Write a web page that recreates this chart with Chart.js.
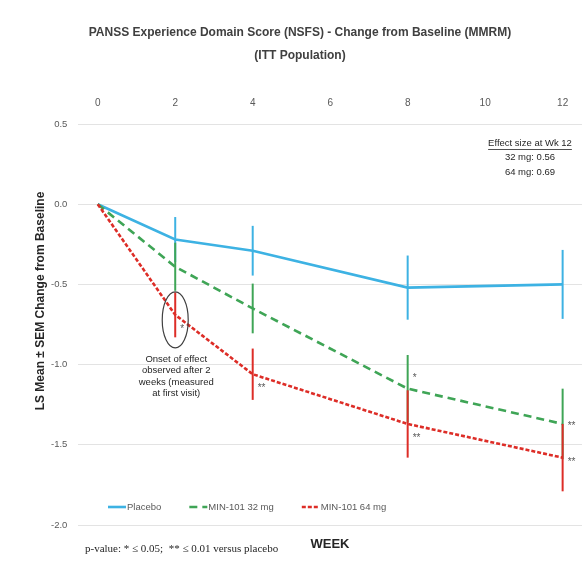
<!DOCTYPE html>
<html>
<head>
<meta charset="utf-8">
<script src="https://cdn.jsdelivr.net/npm/chart.js@4"></script>
<style>
  html, body { margin: 0; padding: 0; background: #fff; }
  #wrap { width: 588px; height: 577px; }
</style>
</head>
<body>
<div id="wrap"><canvas id="panssChart"></canvas></div>
<script>
// Data
const weeks = [0, 2, 4, 8, 12];
const weekTicks = [0, 2, 4, 6, 8, 10, 12];
const yTicks = [0.5, 0.0, -0.5, -1.0, -1.5, -2.0];
const seriesLabels = ["Placebo", "MIN-101 32 mg", "MIN-101 64 mg"];
const placebo = [0, -0.22, -0.29, -0.52, -0.50];
const placeboSem = [0, 0.14, 0.155, 0.20, 0.215];
const mg32 = [0, -0.39, -0.65, -1.15, -1.37];
const mg32Sem = [0, 0.15, 0.155, 0.21, 0.22];
const mg64 = [0, -0.69, -1.06, -1.37, -1.58];
const mg64Sem = [0, 0.14, 0.16, 0.21, 0.21];
const mg32Stars = ["", "", "", "*", "**"];
const mg64Stars = ["", "*", "**", "**", "**"];
const titleLines = ["PANSS Experience Domain Score (NSFS) - Change from Baseline (MMRM)", "(ITT Population)"];
const effectLines = ["Effect size at Wk 12", "32 mg: 0.56", "64 mg: 0.69"];
const onsetLines = ["Onset of effect", "observed after 2", "weeks (measured", "at first visit)"];

const FONT = "'Liberation Sans', Arial, sans-serif";
const GREY = "#595959";

function toPoints(vals) {
  return weeks.map((w, i) => ({ x: w, y: vals[i] }));
}

// error bars, drawn right after each dataset so the overlap order follows the datasets
const errorBars = {
  id: "errorBars",
  afterDatasetDraw(chart, args) {
    const ds = chart.data.datasets[args.index];
    const sem = ds.sem;
    if (!sem) return;
    const { ctx, scales } = chart;
    ctx.save();
    ctx.strokeStyle = ds.borderColor;
    ctx.lineWidth = 2;
    ds.data.forEach((p, i) => {
      if (!sem[i]) return;
      const x = scales.x.getPixelForValue(p.x);
      ctx.beginPath();
      ctx.moveTo(x, scales.y.getPixelForValue(p.y + sem[i]));
      ctx.lineTo(x, scales.y.getPixelForValue(p.y - sem[i]));
      ctx.stroke();
    });
    ctx.restore();
  }
};

// titles, significance stars, notes, legend and footer
const extras = {
  id: "extras",
  afterDraw(chart) {
    const { ctx, scales } = chart;
    const xs = scales.x, ys = scales.y;
    ctx.save();
    ctx.textBaseline = "middle";

    // chart title
    ctx.fillStyle = "#404040";
    ctx.font = "bold 12px " + FONT;
    ctx.textAlign = "center";
    titleLines.forEach((t, i) => ctx.fillText(t, 300, 33 + i * 23));

    // y axis title (sits a bit above the plot centre in the original)
    ctx.save();
    ctx.translate(41, 301);
    ctx.rotate(-Math.PI / 2);
    ctx.fillStyle = "#262626";
    ctx.font = "bold 12px " + FONT;
    ctx.fillText("LS Mean \u00b1 SEM Change from Baseline", 0, 0);
    ctx.restore();

    // stars
    ctx.fillStyle = GREY;
    ctx.font = "10px " + FONT;
    ctx.textAlign = "left";
    mg32Stars.forEach((s, i) => {
      if (!s) return;
      const up = weeks[i] === 8;
      ctx.fillText(s, xs.getPixelForValue(weeks[i]) + 5, ys.getPixelForValue(mg32[i]) + (up ? -10 : 2));
    });
    mg64Stars.forEach((s, i) => {
      if (!s) return;
      const dy = weeks[i] === 12 ? 5 : 14;
      ctx.fillText(s, xs.getPixelForValue(weeks[i]) + 5, ys.getPixelForValue(mg64[i]) + dy);
    });

    // ellipse around the week 2 point
    const ex = xs.getPixelForValue(2);
    const ey = ys.getPixelForValue(mg64[1]) + 5;
    ctx.strokeStyle = "#404040";
    ctx.lineWidth = 1.2;
    ctx.beginPath();
    ctx.ellipse(ex, ey, 13, 28, 0, 0, Math.PI * 2);
    ctx.stroke();

    // onset note
    ctx.fillStyle = "#262626";
    ctx.font = "9.5px " + FONT;
    ctx.textAlign = "center";
    onsetLines.forEach((t, i) => ctx.fillText(t, ex + 1, 359 + i * 11.5));

    // effect size box
    effectLines.forEach((t, i) => {
      const y = 143 + i * 14.5;
      ctx.fillText(t, 530, y);
      if (i === 0) {
        const w = ctx.measureText(t).width;
        ctx.fillRect(530 - w / 2, y + 6, w, 0.8);
      }
    });

    // legend
    let lx = 108;
    const ly = 507;
    ctx.font = "9.5px " + FONT;
    ctx.textAlign = "left";
    chart.data.datasets.forEach(ds => {
      ctx.strokeStyle = ds.borderColor;
      ctx.lineWidth = ds.borderWidth;
      ctx.setLineDash(ds.borderDash || []);
      ctx.beginPath();
      ctx.moveTo(lx, ly);
      ctx.lineTo(lx + 18, ly);
      ctx.stroke();
      ctx.setLineDash([]);
      ctx.fillStyle = GREY;
      ctx.fillText(ds.label, lx + 19, ly);
      lx += 19 + ctx.measureText(ds.label).width + 28;
    });

    // footer
    ctx.fillStyle = "#262626";
    ctx.font = "bold 13px " + FONT;
    ctx.textAlign = "center";
    ctx.fillText("WEEK", 330, 544);
    ctx.font = "11px 'Liberation Serif', serif";
    ctx.textAlign = "left";
    ctx.fillText("p-value: * \u2264 0.05;  ** \u2264 0.01 versus placebo", 85, 549);

    ctx.restore();
  }
};

const ctx = document.getElementById("panssChart").getContext("2d");
new Chart(ctx, {
  type: "line",
  data: {
    datasets: [
      {
        label: seriesLabels[0],
        data: toPoints(placebo),
        sem: placeboSem,
        borderColor: "#3DB2E3",
        borderWidth: 2.6,
        pointRadius: 0,
        order: 3
      },
      {
        label: seriesLabels[1],
        data: toPoints(mg32),
        sem: mg32Sem,
        borderColor: "#3FA556",
        borderWidth: 2.6,
        borderDash: [8, 5],
        pointRadius: 0,
        order: 2
      },
      {
        label: seriesLabels[2],
        data: toPoints(mg64),
        sem: mg64Sem,
        borderColor: "#DD2D27",
        borderWidth: 2.6,
        borderDash: [4, 2],
        pointRadius: 0,
        order: 1
      }
    ]
  },
  options: {
    responsive: true,
    maintainAspectRatio: false,
    animation: false,
    layout: { padding: { left: 40, right: 6, top: 82, bottom: 52 } },
    plugins: {
      legend: { display: false },
      tooltip: { enabled: false },
      title: { display: false }
    },
    scales: {
      x: {
        type: "linear",
        position: "top",
        min: -0.5,
        max: 12.5,
        afterBuildTicks: s => { s.ticks = weekTicks.map(v => ({ value: v })); },
        grid: { display: false, drawTicks: false },
        border: { display: false },
        ticks: { color: GREY, font: { family: FONT, size: 10 }, padding: 15 }
      },
      y: {
        min: -2.0,
        max: 0.5,
        afterBuildTicks: s => { s.ticks = yTicks.map(v => ({ value: v })); },
        grid: { color: "#E3E3E3", drawTicks: false },
        border: { display: false },
        ticks: {
          color: GREY,
          font: { family: FONT, size: 9.5 },
          padding: 11,
          callback: v => v.toFixed(1)
        }
      }
    }
  },
  plugins: [errorBars, extras]
});
</script>
</body>
</html>
